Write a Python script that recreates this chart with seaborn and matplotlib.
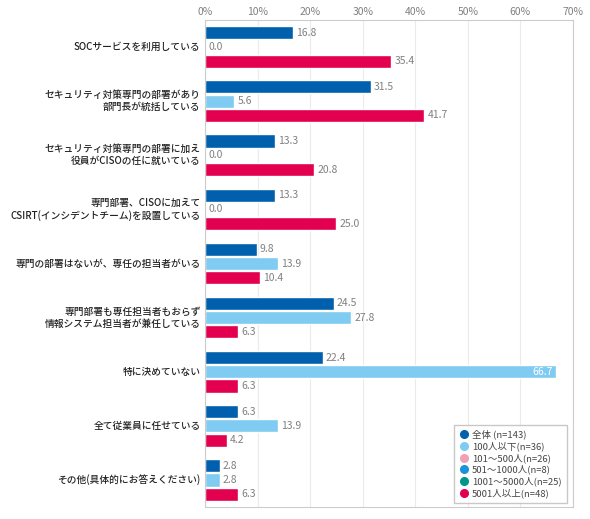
import pandas as pd
import matplotlib.pyplot as plt
import seaborn as sns
from matplotlib.lines import Line2D

# 設問の選択肢
categories = [
    'SOCサービスを利用している',
    'セキュリティ対策専門の部署があり\n部門長が統括している',
    'セキュリティ対策専門の部署に加え\n役員がCISOの任に就いている',
    '専門部署、CISOに加えて\nCSIRT(インシデントチーム)を設置している',
    '専門の部署はないが、専任の担当者がいる',
    '専門部署も専任担当者もおらず\n情報システム担当者が兼任している',
    '特に決めていない',
    '全て従業員に任せている',
    'その他(具体的にお答えください)',
]

all_total = [16.8, 31.5, 13.3, 13.3, 9.8, 24.5, 22.4, 6.3, 2.8]
under_100 = [0.0, 5.6, 0.0, 0.0, 13.9, 27.8, 66.7, 13.9, 2.8]
over_5001 = [35.4, 41.7, 20.8, 25.0, 10.4, 6.3, 6.3, 4.2, 6.3]

series_names = ['全体 (n=143)', '100人以下(n=36)', '5001人以上(n=48)']
legend_names = ['全体 (n=143)', '100人以下(n=36)', '101〜500人(n=26)',
                '501〜1000人(n=8)', '1001〜5000人(n=25)', '5001人以上(n=48)']
legend_colors = ['#0060AE', '#80CBF1', '#EFA0B4', '#1C93D8', '#00968A', '#E2004F']
bar_colors = ['#0060AE', '#80CBF1', '#E2004F']

xticks = [0, 10, 20, 30, 40, 50, 60, 70]

rows = []
for name, vals in zip(series_names, [all_total, under_100, over_5001]):
    for c, v in zip(categories, vals):
        rows.append({'cat': c, 'series': name, 'value': v})
df = pd.DataFrame(rows)

sns.set_style('white')
plt.rcParams['font.family'] = ['Noto Sans CJK JP', 'DejaVu Sans']

fig = plt.figure(figsize=(5.9, 5.19), dpi=100)
ax = fig.add_axes([0.3475, 0.023, 0.6235, 0.9385])

sns.barplot(data=df, x='value', y='cat', hue='series', order=categories,
            hue_order=series_names, palette=bar_colors, orient='h',
            width=0.79, gap=0.08, saturation=1, errorbar=None, ax=ax,
            legend=False)

# 数値ラベル
for cont in ax.containers:
    for p in cont:
        v = p.get_width()
        yc = p.get_y() + p.get_height() / 2
        if v > 60:
            ax.text(v - 0.6, yc, f'{v:.1f}', ha='right', va='center',
                    fontsize=7.5, color='white')
        else:
            ax.text(v + 0.6, yc, f'{v:.1f}', ha='left', va='center',
                    fontsize=7.5, color='#808080')

ax.set_xlim(0, 70)
ax.set_ylim(len(categories) - 0.5, -0.5)
ax.set_xticks(xticks)
ax.set_xticklabels([f'{t}%' for t in xticks])
ax.xaxis.tick_top()
ax.tick_params(axis='x', length=0, labelsize=7.5, colors='#808080', pad=2)

# 選択肢ラベル(複数行は右揃え)
ax.set_yticks(range(len(categories)))
ax.set_yticklabels([])
ax.tick_params(axis='y', length=0)
trans = ax.get_yaxis_transform()
for i, c in enumerate(categories):
    ax.text(-0.012, i, c, transform=trans, ha='right', va='center',
            multialignment='right', fontsize=7, fontweight='medium',
            color='#222222', linespacing=1.25)

ax.set_xlabel('')
ax.set_ylabel('')
ax.grid(axis='x', color='#ebebeb', linewidth=0.8)
ax.set_axisbelow(True)
for s in ax.spines.values():
    s.set_color('#cccccc')
    s.set_linewidth(0.8)

handles = [Line2D([0], [0], marker='o', linestyle='', markersize=5.5,
                  markerfacecolor=c, markeredgecolor=c) for c in legend_colors]
leg = ax.legend(handles, legend_names, loc='lower right',
                bbox_to_anchor=(0.984, 0.008), borderaxespad=0, fontsize=6.8,
                frameon=True, fancybox=False, edgecolor='#bbbbbb',
                handletextpad=0.3, labelspacing=0.2, borderpad=0.55,
                handlelength=1.1)
for t in leg.get_texts():
    t.set_color('#444444')

plt.savefig('out.png', dpi=100)
